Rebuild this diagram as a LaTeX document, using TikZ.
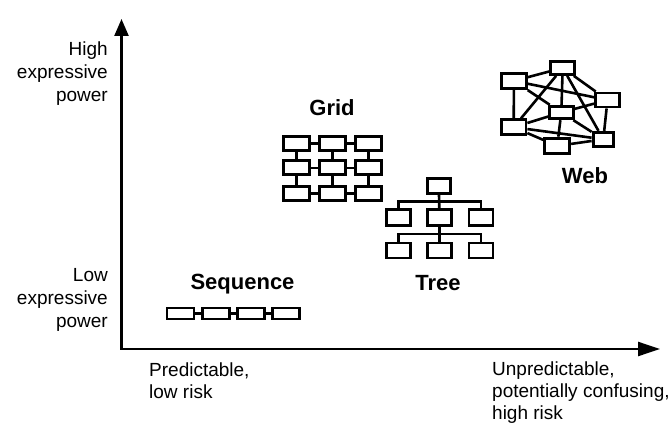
\documentclass[tikz,border=0pt]{standalone}
\usepackage{fontspec}
\setmainfont{Liberation Sans}
\usetikzlibrary{arrows.meta,calc}
\begin{document}
\begin{tikzpicture}[x=1pt,y=-1pt,
  box/.style={draw,line width=2.9pt,inner sep=0pt,minimum width=24pt,minimum height=14pt},
  link/.style={line width=2.6pt},
  axisline/.style={line width=2.4pt},
  lbl/.style={font=\fontsize{19}{23}\selectfont,inner sep=0pt},
  title/.style={font=\bfseries\fontsize{22}{26}\selectfont,inner sep=0pt,anchor=base}
]
\path[use as bounding box] (0,0) rectangle (672,428);

% axes
\coordinate (O) at (121.5,349);
\coordinate (ytip) at (121.5,19);
\coordinate (xtip) at (660,349);
\draw[axisline,-{Triangle[length=17pt,width=14pt]}] (O) -- (ytip);
\draw[axisline,-{Triangle[length=22pt,width=14pt]}] ([xshift=-1.2pt]O) -- (xtip);

% axis labels
\node[lbl,align=right,anchor=north east] (hi) at (108,42) {High\\expressive\\power};
\node[lbl,align=right,anchor=north east] (lo) at (108,268.5) {Low\\expressive\\power};
\node[lbl,align=left,anchor=north west,font=\fontsize{19}{21.5}\selectfont] (pred) at (149,363) {Predictable,\\low risk};
\node[lbl,align=left,anchor=north west,font=\fontsize{19}{22}\selectfont] (unpred) at (492,362) {Unpredictable,\\potentially confusing,\\high risk};

% sequence
\foreach \i/\x in {1/180.5,2/215.8,3/251.1,4/286.4}
  \node[box,minimum width=27pt,minimum height=11pt] (s\i) at (\x,313.5) {};
\foreach \i/\j in {1/2,2/3,3/4} \draw[link] (s\i) -- (s\j);
\node[title] (seqlbl) at (242.5,289.5) {Sequence};

% grid
\foreach \c/\x in {1/296.2,2/332.5,3/368.5}
  \foreach \r/\y in {1/143.4,2/167.9,3/193.4}
    \node[box,minimum width=26pt,minimum height=14pt] (g\r\c) at (\x,\y) {};
\foreach \r in {1,2,3} {
  \draw[link] (g\r1) -- (g\r2);
  \draw[link] (g\r2) -- (g\r3);
}
\foreach \c in {1,2,3} {
  \draw[link] (g1\c) -- (g2\c);
  \draw[link] (g2\c) -- (g3\c);
}
\node[title] (gridlbl) at (332,115) {Grid};

% tree
\node[box,minimum width=23pt,minimum height=15pt] (t0) at (439,186) {};
\foreach \i/\x in {1/398.3,2/439.3,3/481}
  \node[box,minimum width=24pt,minimum height=15.5pt] (t\i) at (\x,217.3) {};
\foreach \i/\x in {4/398.3,5/439.3,6/481}
  \node[box,minimum width=24pt,minimum height=15pt] (t\i) at (\x,250.5) {};
\coordinate (bus1) at ($(t0.south)!0.5!(t2.north)$);
\coordinate (bus2) at ($(t2.south)!0.5!(t5.north)$);
\draw[link] (t0.south) -- (t2.north);
\draw[link] (t1.north) |- (bus1) -| (t3.north);
\draw[link] (t2.south) -- (t5.north);
\draw[link] (t4.north) |- (bus2) -| (t6.north);
\node[title] (treelbl) at (438,290) {Tree};

% web
\node[box,minimum width=25pt,minimum height=15.5pt] (wA) at (513.9,80.9) {};
\node[box,minimum width=24pt,minimum height=13pt] (wB) at (562.7,67.9) {};
\node[box,minimum width=24pt,minimum height=14pt] (wC) at (607.5,100) {};
\node[box,minimum width=23.5pt,minimum height=12.5pt] (wD) at (561.3,112.5) {};
\node[box,minimum width=24.5pt,minimum height=15pt] (wE) at (513.7,127.2) {};
\node[box,minimum width=20.5pt,minimum height=14pt] (wF) at (603.3,139.3) {};
\node[box,minimum width=25pt,minimum height=15.5pt] (wG) at (557.2,145.9) {};
\foreach \a/\b in {A/B,A/C,A/D,A/E,B/E,B/D,B/C,B/F,C/F,C/D,D/E,D/G,E/G,E/F,G/F,D/F}
  \draw[link] (w\a) -- (w\b);
\node[title] (weblbl) at (585,183) {Web};
\end{tikzpicture}
\end{document}
